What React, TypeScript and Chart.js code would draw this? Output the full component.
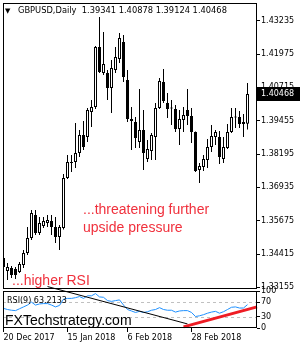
import React, { useEffect, useRef } from 'react';
import { Chart, registerables } from 'chart.js';
Chart.register(...registerables);

// ---- data ----
const symbolTitle = 'GBPUSD,Daily';
const opens = [1.34266, 1.33774, 1.33888, 1.3385, 1.33736, 1.34001, 1.34455, 1.35022, 1.35891, 1.35211,
  1.35475, 1.35589, 1.35664, 1.35437, 1.3506, 1.354, 1.3729, 1.37857, 1.37894, 1.38235,
  1.38915, 1.38839, 1.39784, 1.39972, 1.42241, 1.41259, 1.41259, 1.40692, 1.41372, 1.41788,
  1.4243, 1.40994, 1.3952, 1.39406, 1.3865, 1.39104, 1.38008, 1.3831, 1.38839, 1.39936,
  1.40918, 1.40125, 1.39936, 1.39898, 1.39142, 1.39482, 1.3986, 1.39633, 1.39028, 1.37592,
  1.37705, 1.3797, 1.38461, 1.38839, 1.38839, 1.38008, 1.38424, 1.39028, 1.39595, 1.39595,
  1.39331, 1.39341];
const highs = [1.34379, 1.34077, 1.33963, 1.33925, 1.34114, 1.34568, 1.35437, 1.3608, 1.3608, 1.35816,
  1.35816, 1.35891, 1.35891, 1.35816, 1.35513, 1.37441, 1.38159, 1.38159, 1.39369, 1.39104,
  1.39444, 1.39936, 1.40238, 1.42279, 1.43375, 1.42808, 1.41372, 1.4175, 1.42241, 1.42771,
  1.42695, 1.41372, 1.39972, 1.39595, 1.40654, 1.3986, 1.38726, 1.38991, 1.40125, 1.4107,
  1.4141, 1.40503, 1.40238, 1.40049, 1.3986, 1.39972, 1.40654, 1.39936, 1.3905, 1.37857,
  1.38159, 1.38764, 1.39293, 1.39104, 1.39066, 1.38839, 1.39331, 1.39936, 1.39936, 1.39822,
  1.39709, 1.40878];
const lows = [1.33812, 1.33434, 1.3351, 1.33472, 1.33699, 1.33888, 1.34379, 1.34946, 1.35135, 1.35135,
  1.354, 1.35437, 1.35135, 1.34833, 1.34568, 1.3534, 1.37252, 1.37516, 1.37668, 1.38083,
  1.38348, 1.3865, 1.39217, 1.39898, 1.41259, 1.41183, 1.40238, 1.39747, 1.41259, 1.41637,
  1.40918, 1.39406, 1.38348, 1.38424, 1.38424, 1.37592, 1.37894, 1.3797, 1.3797, 1.39898,
  1.40125, 1.39558, 1.39293, 1.39028, 1.38537, 1.39028, 1.39293, 1.38613, 1.37516, 1.37101,
  1.37554, 1.37668, 1.38272, 1.38537, 1.37819, 1.37857, 1.38386, 1.38991, 1.3918, 1.3918,
  1.38839, 1.39124];
const closes = [1.33925, 1.33925, 1.33623, 1.33623, 1.34039, 1.34455, 1.35022, 1.35967, 1.35211, 1.35589,
  1.35664, 1.35702, 1.35437, 1.3506, 1.35437, 1.3729, 1.37894, 1.3788, 1.38235, 1.38915,
  1.38461, 1.3986, 1.39972, 1.42241, 1.41296, 1.41599, 1.40692, 1.41448, 1.41863, 1.42582,
  1.41107, 1.3952, 1.39444, 1.38802, 1.39104, 1.38235, 1.38386, 1.38915, 1.39936, 1.40956,
  1.402, 1.39898, 1.3992, 1.39142, 1.3952, 1.39671, 1.39633, 1.39028, 1.37554, 1.37743,
  1.38008, 1.38461, 1.38877, 1.39028, 1.38083, 1.38461, 1.39028, 1.39595, 1.3958, 1.39331,
  1.39406, 1.40468];
const rsiValues = [53, 50, 48, 47, 52, 57, 62, 70, 62, 65,
  66, 66, 62, 57, 61, 78, 80, 80, 82, 85,
  80, 87, 87, 93, 84, 83, 74, 72, 74, 76,
  62, 50, 46, 42, 45, 42, 44, 48, 50, 55,
  50, 48, 48, 43, 46, 47, 47, 42, 31, 33,
  36, 40, 43, 45, 40, 44, 50, 56, 57, 54,
  54, 63.2133];
const priceTicks = [1.33155, 1.34415, 1.35675, 1.36935, 1.38195, 1.39455, 1.40715, 1.41975, 1.43235];
const rsiTicks = [0, 30, 70, 100];
const rsiLevels = [30, 70];
const dateTickIndex = [0, 16, 31, 47];
const dateTickLabels = ['20 Dec 2017', '15 Jan 2018', '6 Feb 2018', '28 Feb 2018'];
const blackTrend = [{ i: 11, v: 112 }, { i: 46, v: 11 }];
const redTrend = [{ i: 45, v: 3 }, { i: 63.375, v: 57 }];
const noteLines = ['...threatening further', 'upside pressure', '...higher RSI'];
const watermark = 'FXTechstrategy.com';

// ---- view settings ----
const X_MIN = -0.125;
const X_MAX = 63.375;
const Y_MIN = 1.33094;
const Y_MAX = 1.43905;
const RED = '#f0303c';
const AX_FONT = { family: 'DejaVu Sans', size: 8 };

const last = closes.length - 1;

const zeroPad = (s: any) => {
  s.paddingLeft = 0; s.paddingRight = 0; s.paddingTop = 0; s.paddingBottom = 0;
};

const mainPlugin = {
  id: 'mainDecor',
  afterDraw(chart: any) {
    const { ctx, chartArea: a, scales } = chart;
    ctx.save();
    ctx.strokeStyle = '#000';
    ctx.lineWidth = 1;
    ctx.strokeRect(a.left + 0.5, a.top + 0.5, a.right - a.left - 1, a.bottom - a.top - 1);
    ctx.fillStyle = '#000';
    ctx.textBaseline = 'middle';
    ctx.textAlign = 'left';
    ctx.font = '7px "DejaVu Sans"';
    ctx.fillText('▼', 5, 11);
    ctx.font = '8.3px "DejaVu Sans"';
    ctx.fillText(`${symbolTitle}  ${opens[last].toFixed(5)} ${highs[last].toFixed(5)} ${lows[last].toFixed(5)} ${closes[last].toFixed(5)}`, 18, 11);
    ctx.fillStyle = RED;
    ctx.font = '14px "Liberation Sans"';
    ctx.fillText(noteLines[0], 83, 210);
    ctx.fillText(noteLines[1], 83, 228);
    ctx.fillText(noteLines[2], 12, 281);
    const y = scales.y.getPixelForValue(closes[last]);
    ctx.fillStyle = '#000';
    ctx.fillRect(a.right, Math.round(y) - 7, chart.width - a.right, 14);
    ctx.fillStyle = '#fff';
    ctx.font = '8px "DejaVu Sans"';
    ctx.fillText(closes[last].toFixed(5), a.right + 4, Math.round(y));
    ctx.restore();
  },
};

const rsiPlugin = {
  id: 'rsiDecor',
  beforeDatasetsDraw(chart: any) {
    const { ctx, chartArea: a, scales } = chart;
    ctx.save();
    ctx.strokeStyle = '#c0c0c0';
    ctx.lineWidth = 1;
    ctx.setLineDash([3, 3]);
    rsiLevels.forEach((lv) => {
      const y = Math.round(scales.y.getPixelForValue(lv)) + 0.5;
      ctx.beginPath();
      ctx.moveTo(a.left, y);
      ctx.lineTo(a.right, y);
      ctx.stroke();
    });
    ctx.restore();
  },
  afterDatasetsDraw(chart: any) {
    const { ctx, chartArea: a } = chart;
    ctx.save();
    ctx.strokeStyle = '#000';
    ctx.lineWidth = 1;
    ctx.strokeRect(a.left + 0.5, a.top + 0.5, a.right - a.left - 1, a.bottom - a.top - 1);
    ctx.fillStyle = '#000';
    ctx.textBaseline = 'middle';
    ctx.font = '8px "DejaVu Sans"';
    ctx.fillText(`RSI(9) ${rsiValues[last].toFixed(4)}`, 7, 21);
    ctx.font = '14px "Liberation Sans"';
    ctx.fillText(watermark, 5, 41);
    ctx.restore();
  },
};

export default function App() {
  const mainRef = useRef<HTMLCanvasElement>(null);
  const rsiRef = useRef<HTMLCanvasElement>(null);

  useEffect(() => {
    const wicks = lows.map((l, i) => ({ x: i, y: [l, highs[i]] }));
    const bodies = opens.map((o, i) => ({ x: i, y: [o, closes[i]] }));
    const bodyFill = opens.map((o, i) => (closes[i] >= o ? '#ffffff' : '#000000'));

    const main = new Chart(mainRef.current as HTMLCanvasElement, {
      type: 'bar',
      data: {
        datasets: [
          {
            data: bodies as any,
            backgroundColor: bodyFill,
            borderColor: '#000',
            borderWidth: 1,
            borderSkipped: false,
            barThickness: 3,
            grouped: false,
            minBarLength: 1,
            inflateAmount: 0,
            order: 1,
          } as any,
          {
            data: wicks as any,
            backgroundColor: '#000',
            borderWidth: 0,
            barThickness: 1,
            grouped: false,
            inflateAmount: 0,
            order: 2,
          } as any,
        ],
      },
      options: {
        responsive: false,
        animation: false,
        devicePixelRatio: 1,
        layout: { padding: { left: 3, top: 3, right: 0, bottom: 1 } },
        plugins: { legend: { display: false }, tooltip: { enabled: false } },
        scales: {
          x: {
            type: 'linear',
            display: false,
            min: X_MIN,
            max: X_MAX,
            offset: false,
            grid: { offset: false },
          },
          y: {
            position: 'right',
            min: Y_MIN,
            max: Y_MAX,
            afterFit: (s: any) => { s.width = 43; zeroPad(s); },
            afterBuildTicks: (s: any) => { s.ticks = priceTicks.map((v) => ({ value: v })); },
            ticks: {
              autoSkip: false,
              color: '#000',
              font: AX_FONT,
              padding: 1,
              callback: (v: any) => Number(v).toFixed(5),
            },
            grid: { drawOnChartArea: false, drawTicks: true, tickLength: 3, color: '#000' },
            border: { display: false },
          },
        },
      } as any,
      plugins: [mainPlugin],
    });

    const rsi = new Chart(rsiRef.current as HTMLCanvasElement, {
      type: 'line',
      data: {
        datasets: [
          {
            data: redTrend.map((p) => ({ x: p.i, y: p.v })),
            borderColor: '#ee1c24',
            borderWidth: 3,
            pointRadius: 0,
            clip: false,
          } as any,
          {
            data: blackTrend.map((p) => ({ x: p.i, y: p.v })),
            borderColor: '#000',
            borderWidth: 1,
            pointRadius: 0,
            clip: false,
          } as any,
          {
            data: rsiValues.map((v, i) => ({ x: i, y: v })),
            borderColor: '#1e90ff',
            borderWidth: 1,
            pointRadius: 0,
            tension: 0,
          } as any,
        ],
      },
      options: {
        responsive: false,
        animation: false,
        devicePixelRatio: 1,
        layout: { padding: { left: 3, top: 11, right: 0, bottom: 0 } },
        plugins: { legend: { display: false }, tooltip: { enabled: false } },
        scales: {
          x: {
            type: 'linear',
            min: X_MIN,
            max: X_MAX,
            offset: false,
            afterFit: (s: any) => { s.height = 22; zeroPad(s); },
            afterBuildTicks: (s: any) => { s.ticks = dateTickIndex.map((v) => ({ value: v })); },
            ticks: {
              autoSkip: false,
              maxRotation: 0,
              align: 'start',
              padding: 1,
              color: '#000',
              font: AX_FONT,
              callback: (_v: any, idx: number) => dateTickLabels[idx],
            },
            grid: { drawOnChartArea: false, drawTicks: true, tickLength: 4, color: '#000', offset: false },
            border: { display: false },
          },
          y: {
            position: 'right',
            min: 0,
            max: 100,
            afterFit: (s: any) => { s.width = 43; zeroPad(s); },
            afterBuildTicks: (s: any) => { s.ticks = rsiTicks.map((v) => ({ value: v })); },
            ticks: { autoSkip: false, color: '#000', font: AX_FONT, padding: 1 },
            grid: { drawOnChartArea: false, drawTicks: true, tickLength: 3, color: '#000' },
            border: { display: false },
          },
        },
      } as any,
      plugins: [rsiPlugin],
    });

    return () => {
      main.destroy();
      rsi.destroy();
    };
  }, []);

  return (
    <div style={{ position: 'absolute', left: 0, top: 0, width: 300, height: 350, background: '#fff' }}>
      <canvas ref={mainRef} width={300} height={290} style={{ position: 'absolute', left: 0, top: 0 }} />
      <canvas ref={rsiRef} width={300} height={70} style={{ position: 'absolute', left: 0, top: 280 }} />
    </div>
  );
}
